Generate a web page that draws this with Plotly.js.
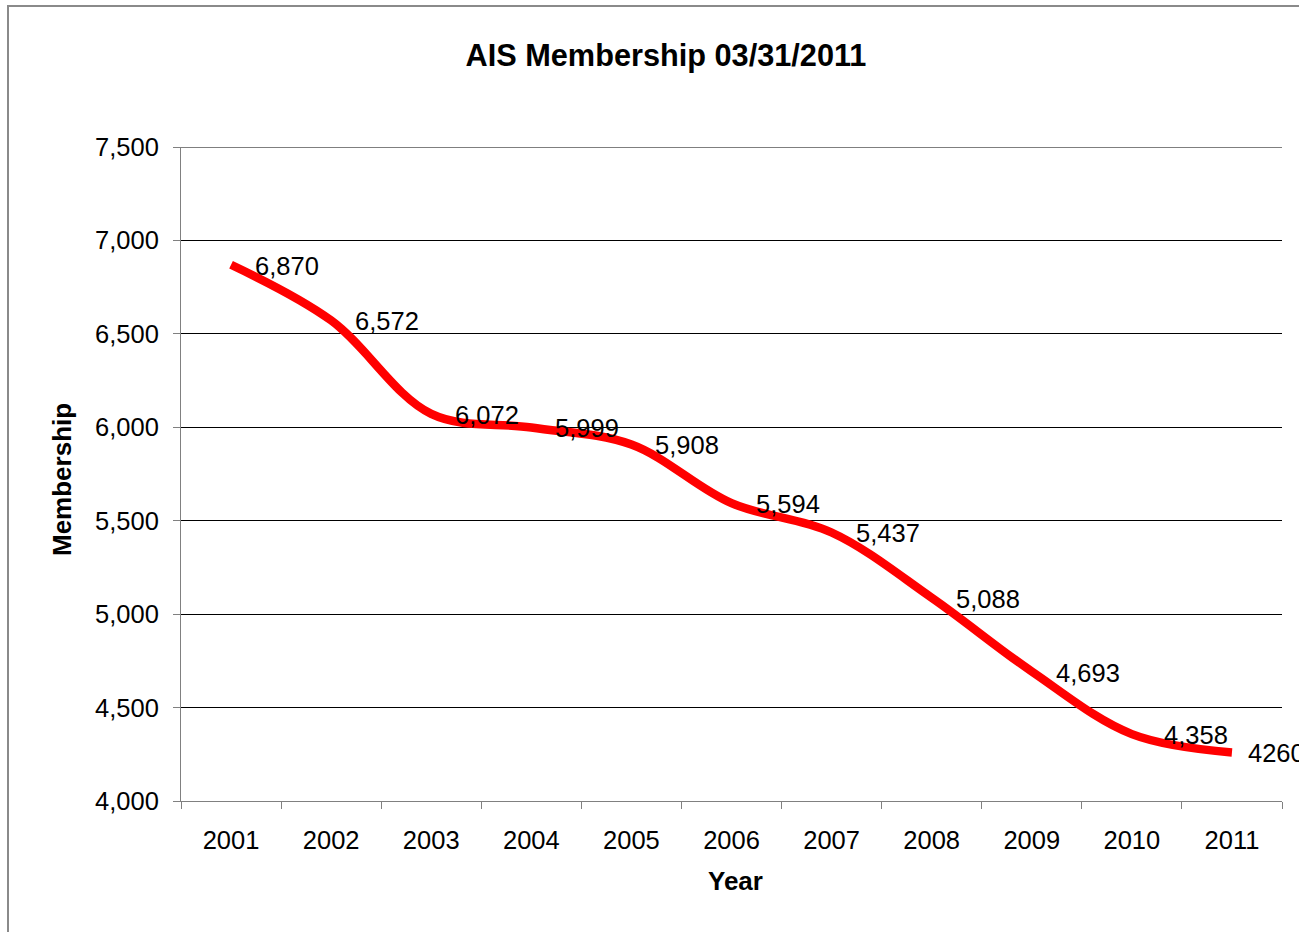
<!DOCTYPE html>
<html>
<head>
<meta charset="utf-8">
<script src="https://cdn.plot.ly/plotly-3.0.1.min.js"></script>
<style>
  html, body { margin: 0; padding: 0; background: #fff; }
  #wrap { position: relative; width: 1299px; height: 932px; overflow: hidden; }
  #chart { width: 1299px; height: 932px; }
  #frame { position: absolute; left: 7px; top: 5px; right: -10px; bottom: -10px;
           border-left: 2px solid #8a8a8a; border-top: 2px solid #8a8a8a; pointer-events: none; }
</style>
</head>
<body>
<div id="wrap">
  <div id="chart"></div>
  <div id="frame"></div>
</div>
<script>
const years = ['2001','2002','2003','2004','2005','2006','2007','2008','2009','2010','2011'];
const membership = [6870, 6572, 6072, 5999, 5908, 5594, 5437, 5088, 4693, 4358, 4260];
const pointLabels = ['6,870','6,572','6,072','5,999','5,908','5,594','5,437','5,088','4,693','4,358','4260'];
const yTicks = [4000, 4500, 5000, 5500, 6000, 6500, 7000, 7500];
const yTickText = ['4,000','4,500','5,000','5,500','6,000','6,500','7,000','7,500'];

const FONT = 'Liberation Sans, Arial, sans-serif';

const trace = {
  x: years,
  y: membership,
  type: 'scatter',
  mode: 'lines',
  line: { color: '#ff0000', width: 8.5, shape: 'spline', smoothing: 1 },
  hoverinfo: 'x+y'
};

// label horizontal offsets (style): default, with the last two nudged as in the original
function labelShift(i) {
  if (i === years.length - 1) return 14;
  if (i === years.length - 2) return 30;
  return 22;
}

const annotations = years.map((yr, i) => ({
  x: i, y: membership[i], xref: 'x', yref: 'y',
  text: pointLabels[i], showarrow: false,
  xanchor: 'left', yanchor: 'middle', xshift: labelShift(i), yshift: -1,
  font: { family: FONT, size: 25.5, color: '#000' }
}));

// axis titles
annotations.push({
  xref: 'paper', yref: 'paper', x: (735 - 181) / 1101, y: (801 - 881) / 654,
  xanchor: 'center', yanchor: 'middle', showarrow: false,
  text: '<b>Year</b>', font: { family: FONT, size: 26, color: '#000' }
});
annotations.push({
  xref: 'paper', yref: 'paper', x: (62 - 181) / 1101, y: (801 - 480) / 654,
  xanchor: 'center', yanchor: 'middle', showarrow: false, textangle: -90,
  text: '<b>Membership</b>', font: { family: FONT, size: 26, color: '#000' }
});

const layout = {
  width: 1299, height: 932,
  margin: { l: 181, r: 17, t: 147, b: 131 },
  paper_bgcolor: '#fff', plot_bgcolor: '#fff',
  showlegend: false,
  font: { family: FONT, size: 25.5, color: '#000' },
  title: {
    text: '<b>AIS Membership 03/31/2011</b>',
    font: { family: FONT, size: 30.7, color: '#000' },
    xref: 'container', yref: 'container',
    x: 666/1299, y: 1 - 55/932, xanchor: 'center', yanchor: 'middle'
  },
  xaxis: {
    type: 'category',
    range: [-0.5, 10.5],
    tickson: 'boundaries',
    ticks: 'outside', ticklen: 7, tickcolor: '#808080', tickwidth: 1,
    showline: true, linecolor: '#808080', linewidth: 1,
    showgrid: false, zeroline: false,
    tickfont: { family: FONT, size: 25.5, color: '#000' },
    ticklabelstandoff: 16,
    fixedrange: true
  },
  yaxis: {
    range: [4000, 7500],
    tickvals: yTicks, ticktext: yTickText,
    ticks: 'outside', ticklen: 7, tickcolor: '#808080', tickwidth: 1,
    showline: true, linecolor: '#808080', linewidth: 1,
    showgrid: true, gridcolor: '#000', gridwidth: 1,
    zeroline: false,
    tickfont: { family: FONT, size: 25.5, color: '#000' },
    ticklabelstandoff: 9,
    fixedrange: true
  },
  shapes: [{
    type: 'line', xref: 'paper', yref: 'y', x0: 0, x1: 1, y0: 7500, y1: 7500,
    line: { color: '#000', width: 1 }
  }],
  annotations: annotations
};

Plotly.newPlot('chart', [trace], layout, { displayModeBar: false, staticPlot: true });
</script>
</body>
</html>
